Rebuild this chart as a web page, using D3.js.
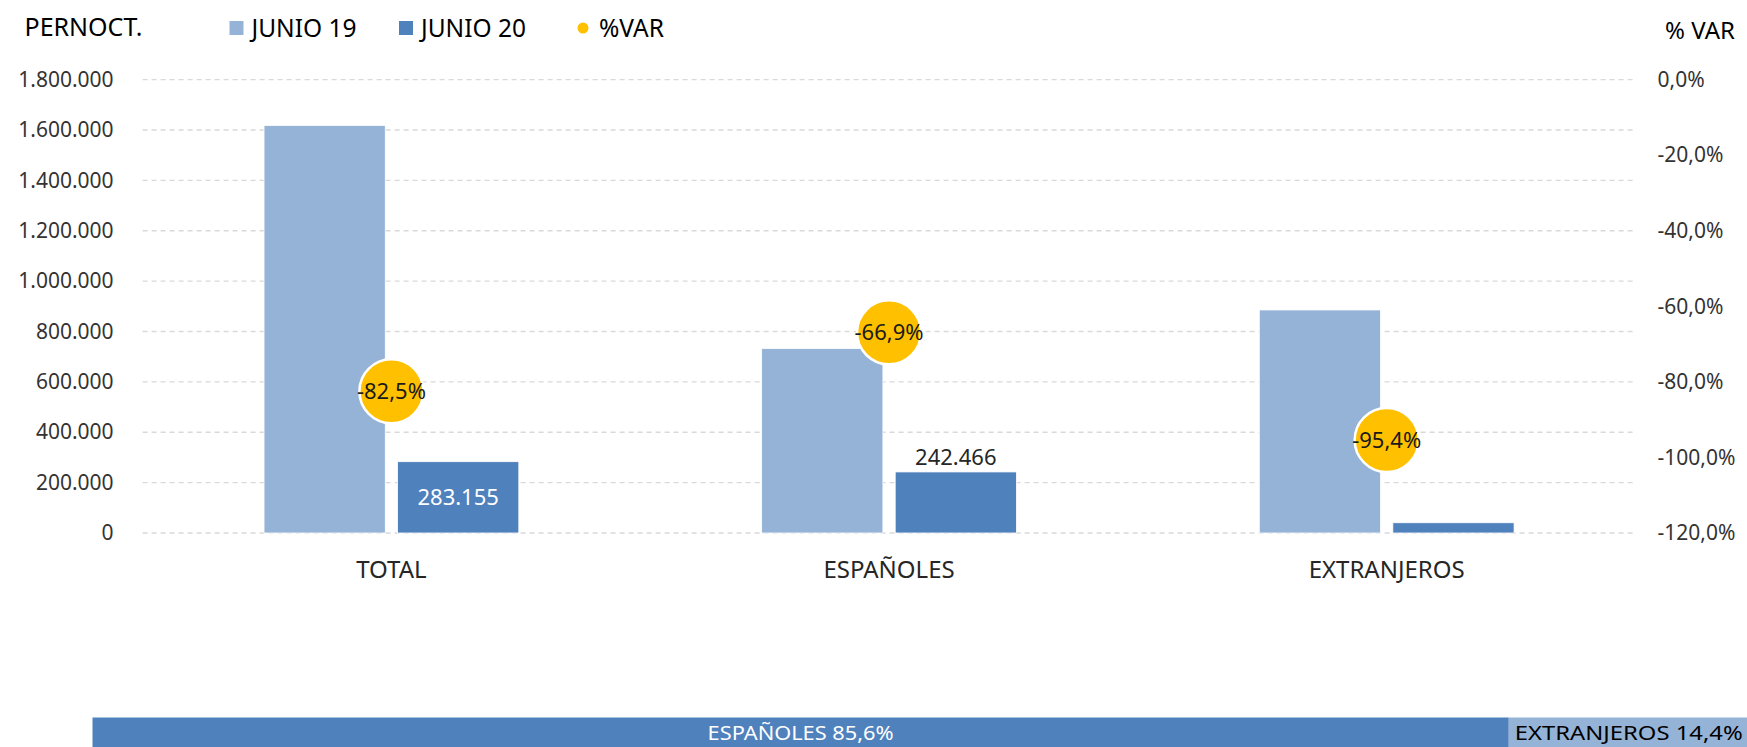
<!DOCTYPE html>
<head>
    <title>Pernoctaciones junio</title>
    <script src="https://d3js.org/d3.v7.min.js"></script>
    <style>
        body { margin: 0; background: #fff; }
        svg { display: block; font-family: "Noto Sans", sans-serif; }
    </style>
</head>
<body>
<script>
// data
const categories = ["TOTAL", "ESPAÑOLES", "EXTRANJEROS"];
const series = ["JUNIO 19", "JUNIO 20"];
const junio19 = [1618029, 732526, 885503];
const junio20 = [283155, 242466, 40689];
const variacion = [-0.825, -0.669, -0.954];
const leftTicks = [0, 200000, 400000, 600000, 800000, 1000000, 1200000, 1400000, 1600000, 1800000];
const rightTicks = [0, -0.2, -0.4, -0.6, -0.8, -1.0, -1.2];
const shareLabels = ["ESPAÑOLES", "EXTRANJEROS"];
const shares = [85.6, 14.4];

const w = 1747, h = 747;
const colors = { "JUNIO 19": "#95B3D7", "JUNIO 20": "#4F81BD" };
const varColor = "#FFC000";

const es = d3.formatLocale({ decimal: ",", thousands: ".", grouping: [3], currency: ["", "€"], minus: "-" });
const fmtNum = es.format(",.0f");
const fmtPct = es.format(".1%");

const svg = d3.select("body").append("svg")
    .attr("width", w)
    .attr("height", h);

const x0 = d3.scaleBand().domain(categories).range([142.6, 1635.5]);
const groupW = x0.bandwidth() * 0.512;
const x1 = d3.scaleBand().domain(series)
    .range([(x0.bandwidth() - groupW) / 2, (x0.bandwidth() + groupW) / 2])
    .paddingInner(0.092);

const yL = d3.scaleLinear().domain([0, 1800000]).range([533, 79.6]);
const yR = d3.scaleLinear().domain([-1.2, 0]).range([533, 79.6]);

// gridlines
svg.append("g")
   .selectAll("line")
   .data(leftTicks)
   .enter().append("line")
   .attr("x1", 142.6).attr("x2", 1635.5)
   .attr("y1", d => yL(d)).attr("y2", d => yL(d))
   .attr("stroke", "#d9d9d9")
   .attr("stroke-width", 1.3)
   .attr("stroke-dasharray", "5,4");

// axes
const axL = svg.append("g")
   .attr("transform", "translate(142.6,0)")
   .call(d3.axisLeft(yL).tickValues(leftTicks).tickFormat(fmtNum).tickSize(0).tickPadding(29));
const axR = svg.append("g")
   .attr("transform", "translate(1635.5,0)")
   .call(d3.axisRight(yR).tickValues(rightTicks).tickFormat(fmtPct).tickSize(0).tickPadding(22));
[axL, axR].forEach(a => {
    a.select(".domain").remove();
    a.selectAll("text")
     .attr("font-size", 21)
     .attr("font-family", "Noto Sans")
     .attr("fill", "#333");
});

// bars
const rows = categories.map((c, i) => ({ cat: c, vals: [junio19[i], junio20[i]] }));
const groups = svg.selectAll(".grp")
   .data(rows)
   .enter().append("g")
   .attr("class", "grp")
   .attr("transform", d => "translate(" + x0(d.cat) + ",0)");

groups.selectAll("rect")
   .data(d => d.vals.map((v, j) => ({ s: series[j], v: v })))
   .enter().append("rect")
   .attr("x", d => x1(d.s))
   .attr("y", d => yL(d.v))
   .attr("width", x1.bandwidth())
   .attr("height", d => yL(0) - yL(d.v))
   .attr("fill", d => colors[d.s])
   .attr("stroke", "#fff")
   .attr("stroke-width", 0.8);

// data labels on JUNIO 20 bars (TOTAL inside, ESPAÑOLES above)
svg.append("text")
   .attr("x", x0("TOTAL") + x1("JUNIO 20") + x1.bandwidth() / 2)
   .attr("y", (yL(junio20[0]) + yL(0)) / 2)
   .attr("dy", "0.35em")
   .attr("text-anchor", "middle")
   .attr("font-size", 22)
   .attr("fill", "#fff")
   .text(fmtNum(junio20[0]));
svg.append("text")
   .attr("x", x0("ESPAÑOLES") + x1("JUNIO 20") + x1.bandwidth() / 2)
   .attr("y", yL(junio20[1]) - 7)
   .attr("text-anchor", "middle")
   .attr("font-size", 22)
   .attr("fill", "#262626")
   .text(fmtNum(junio20[1]));

// %VAR markers
const pts = categories.map((c, i) => ({ cat: c, v: variacion[i] }));
svg.selectAll(".var")
   .data(pts)
   .enter().append("circle")
   .attr("class", "var")
   .attr("cx", d => x0(d.cat) + x0.bandwidth() / 2)
   .attr("cy", d => yR(d.v))
   .attr("r", 32)
   .attr("fill", varColor)
   .attr("stroke", "#fff")
   .attr("stroke-width", 2.5);
svg.selectAll(".varlab")
   .data(pts)
   .enter().append("text")
   .attr("class", "varlab")
   .attr("x", d => x0(d.cat) + x0.bandwidth() / 2)
   .attr("y", d => yR(d.v))
   .attr("dy", "0.35em")
   .attr("text-anchor", "middle")
   .attr("font-size", 22)
   .attr("fill", "#1a1a1a")
   .text(d => fmtPct(d.v));

// category labels
svg.selectAll(".cat")
   .data(categories)
   .enter().append("text")
   .attr("x", d => x0(d) + x0.bandwidth() / 2)
   .attr("y", 578)
   .attr("text-anchor", "middle")
   .attr("font-size", 24)
   .attr("fill", "#262626")
   .text(d => d);

// titles and legend
svg.append("text").attr("x", 24.5).attr("y", 36).attr("font-size", 25).attr("fill", "#000").text("PERNOCT.");
svg.append("text").attr("x", 1735).attr("y", 39).attr("text-anchor", "end").attr("font-size", 24).attr("fill", "#000").text("% VAR");

const legend = [
    { name: series[0], x: 229.5, type: "sq", color: colors[series[0]] },
    { name: series[1], x: 399, type: "sq", color: colors[series[1]] },
    { name: "%VAR", x: 577, type: "dot", color: varColor }
];
legend.forEach(l => {
    if (l.type === "sq") {
        svg.append("rect").attr("x", l.x).attr("y", 21).attr("width", 14).attr("height", 14).attr("fill", l.color);
    } else {
        svg.append("circle").attr("cx", l.x + 6).attr("cy", 28).attr("r", 5.5).attr("fill", l.color);
    }
    svg.append("text").attr("x", l.x + 22).attr("y", 37).attr("font-size", 24.5).attr("fill", "#000").text(l.name);
});

// share strip at the bottom
const xs = d3.scaleLinear().domain([0, 100]).range([92.5, 1747]);
let acc = 0;
const strip = shares.map((s, i) => { const d = { name: shareLabels[i], v: s, start: acc }; acc += s; return d; });
svg.selectAll(".strip")
   .data(strip)
   .enter().append("rect")
   .attr("x", d => xs(d.start))
   .attr("y", 717.5)
   .attr("width", d => xs(d.start + d.v) - xs(d.start))
   .attr("height", 30)
   .attr("fill", (d, i) => i === 0 ? colors["JUNIO 20"] : colors["JUNIO 19"]);
svg.append("text")
   .attr("x", (xs(strip[0].start) + xs(strip[0].start + strip[0].v)) / 2)
   .attr("y", 740)
   .attr("text-anchor", "middle")
   .attr("font-size", 20)
   .attr("textLength", 186)
   .attr("lengthAdjust", "spacingAndGlyphs")
   .attr("fill", "#fff")
   .text(strip[0].name + " " + es.format(".1f")(strip[0].v) + "%");
svg.append("text")
   .attr("x", xs(strip[1].start) + 6)
   .attr("y", 740)
   .attr("font-size", 20)
   .attr("textLength", 228)
   .attr("lengthAdjust", "spacingAndGlyphs")
   .attr("fill", "#000")
   .text(strip[1].name + " " + es.format(".1f")(strip[1].v) + "%");
</script>
</body>
